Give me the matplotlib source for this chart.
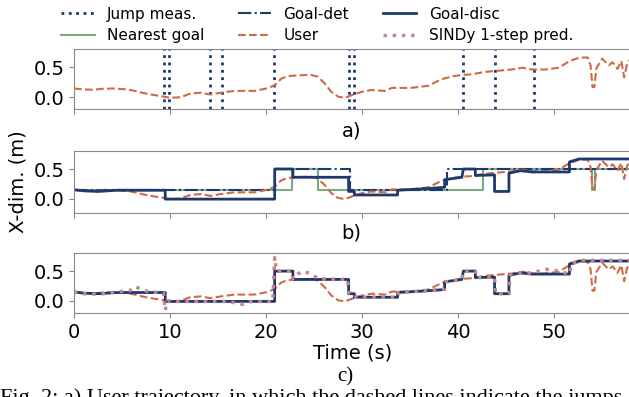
import matplotlib.pyplot as plt
from matplotlib.lines import Line2D

# user trajectory (x-dim, m)
t_user = [0, 1, 2, 3, 4.1, 5.5, 6.5, 7.2, 8.2, 9, 10, 11.1, 12.1, 13.2, 14.2, 15.3, 16.7, 18.8,
          20.2, 20.9, 21.6, 22.3, 23.6, 24.7, 25.4, 26.1, 26.8, 27.5, 28.2, 29.2, 30, 31, 32.4,
          33.1, 35.1, 36.9, 38.3, 39.5, 40.4, 41.4, 42.8, 44.2, 45.6, 46.7, 47.7, 49.1, 50.5,
          51.6, 52.6, 53.5, 53.8, 54.0, 54.2, 54.4, 55, 55.7, 56.1, 56.6, 57.0, 57.3, 57.6, 58]
x_user = [0.145, 0.13, 0.125, 0.14, 0.145, 0.13, 0.1, 0.07, 0.04, 0.02, -0.01, 0.0, 0.06, 0.075,
          0.045, 0.075, 0.105, 0.105, 0.15, 0.2, 0.31, 0.35, 0.365, 0.37, 0.34, 0.23, 0.09, 0.01,
          -0.01, 0.05, 0.09, 0.12, 0.105, 0.155, 0.155, 0.19, 0.3, 0.35, 0.37, 0.38, 0.42, 0.44,
          0.46, 0.49, 0.46, 0.46, 0.49, 0.6, 0.655, 0.66, 0.53, 0.17, 0.17, 0.48, 0.64, 0.53,
          0.58, 0.47, 0.6, 0.33, 0.55, 0.65]

# measured jumps (s)
t_jumps = [9.4, 9.86, 14.15, 15.4, 20.85, 28.6, 29.15, 40.55, 43.8, 47.95]

# nearest goal
t_near = [0, 22.7, 22.7, 25.4, 25.4, 42.6, 42.6, 53.9, 53.9, 54.25, 54.25, 58]
x_near = [0.15, 0.15, 0.5, 0.5, 0.15, 0.15, 0.5, 0.5, 0.15, 0.15, 0.5, 0.5]

# goal-det
t_det = [0, 20.9, 20.9, 28.7, 28.7, 38.9, 38.9, 58]
x_det = [0.15, 0.15, 0.5, 0.5, 0.15, 0.15, 0.5, 0.5]

# goal-disc
t_disc = [0, 1, 2.5, 4.5, 9.5, 9.5, 20.9, 20.9, 22.8, 22.8, 28.6, 28.6, 29.2, 29.2, 33.7, 33.7,
          36.9, 38.6, 38.6, 40.4, 40.55, 41.8, 41.8, 43.8, 43.8, 45.3, 45.3, 46.5, 47.7, 51.6,
          51.6, 52.6, 58]
x_disc = [0.15, 0.13, 0.12, 0.14, 0.14, -0.01, -0.01, 0.5, 0.5, 0.36, 0.36, 0.12, 0.12, 0.06,
          0.06, 0.14, 0.17, 0.19, 0.32, 0.36, 0.5, 0.5, 0.39, 0.4, 0.12, 0.12, 0.43, 0.47, 0.45,
          0.45, 0.62, 0.67, 0.67]

# SINDy 1-step prediction
t_sindy = [0, 1, 2.5, 4.5, 5.8, 6.3, 6.8, 7.8, 9.3, 9.5, 9.7, 10.5, 13, 16, 17.6, 18.5, 20.7,
           20.9, 21.1, 22.6, 22.8, 23.3, 23.8, 24.6, 25.5, 28.5, 28.6, 29.2, 29.4, 33.7, 33.8,
           36.9, 38.6, 38.7, 40.4, 40.55, 41.8, 41.9, 43.8, 43.9, 45.3, 45.4, 46.5, 47.7, 49.2,
           50.5, 51.6, 51.8, 52.6, 58]
x_sindy = [0.15, 0.12, 0.11, 0.15, 0.17, 0.24, 0.21, 0.15, 0.14, -0.16, 0.0, -0.01, -0.01,
           -0.01, -0.06, -0.01, -0.01, 0.73, 0.5, 0.5, 0.37, 0.45, 0.5, 0.46, 0.37, 0.36, 0.14,
           0.12, 0.06, 0.06, 0.14, 0.17, 0.2, 0.32, 0.36, 0.5, 0.5, 0.39, 0.4, 0.12, 0.12, 0.43,
           0.47, 0.47, 0.53, 0.5, 0.45, 0.62, 0.68, 0.68]

navy = "#1c3a6e"
green = "#7aab86"
orange = "#cf6a45"
pink = "#c8868c"

plt.rcParams['font.size'] = 14

fig = plt.figure(figsize=(6.29, 3.97), dpi=100)
W = 629
H = 397
left = 74 / W
width = 1.003 - left
ax_a = fig.add_axes([left, 1 - 109.3 / H, width, 60.3 / H])
ax_b = fig.add_axes([left, 1 - 212.7 / H, width, 62 / H])
ax_c = fig.add_axes([left, 1 - 313.3 / H, width, 60 / H])

# a) user + jumps
for tj in t_jumps:
    ax_a.axvline(tj, color=navy, ls=":", lw=2)
ax_a.plot(t_user, x_user, color=orange, ls="--", lw=1.5)
ax_a.set_ylim(-0.2, 0.8)

# b) goals
ax_b.plot(t_near, x_near, color=green, lw=1.5)
ax_b.plot(t_det, x_det, color=navy, ls="-.", lw=1.5)
ax_b.plot(t_user, x_user, color=orange, ls="--", lw=1.5)
ax_b.plot(t_disc, x_disc, color=navy, lw=2)
ax_b.set_ylim(-0.24, 0.81)
ax_b.set_ylabel("X-dim. (m)")

# c) SINDy
ax_c.plot(t_user, x_user, color=orange, ls="--", lw=1.5)
ax_c.plot(t_disc, x_disc, color=navy, lw=2)
ax_c.plot(t_sindy, x_sindy, color=pink, ls=":", lw=2.5)
ax_c.set_ylim(-0.21, 0.8)
ax_c.set_xlabel("Time (s)", labelpad=1)

for ax in (ax_a, ax_b, ax_c):
    ax.set_xlim(0, 58)
    ax.set_xticks([0, 10, 20, 30, 40, 50])
    ax.set_yticks([0.0, 0.5])
    for s in ax.spines.values():
        s.set_color("#888888")
    ax.tick_params(color="#888888")
ax_a.set_xticklabels([])
ax_b.set_xticklabels([])

fig.text((74 + 629) / 2 / W, 1 - 131 / H, "a)", ha="center", va="center", fontsize=14)
fig.text((74 + 629) / 2 / W, 1 - 233 / H, "b)", ha="center", va="center", fontsize=14)
fig.text(345 / W, 1 - 377 / H, "c)", ha="center", va="center", fontsize=15,
         family="Liberation Serif")
fig.text(0.0, 1 - 388 / H,
         "Fig. 2: a) User trajectory, in which the dashed lines indicate the jumps",
         ha="left", va="top", fontsize=16, family="Liberation Serif")

handles = [
    Line2D([], [], color=navy, ls=":", lw=2),
    Line2D([], [], color=green, lw=1.5),
    Line2D([], [], color=navy, ls="-.", lw=1.5),
    Line2D([], [], color=orange, ls="--", lw=1.5),
    Line2D([], [], color=navy, lw=2),
    Line2D([], [], color=pink, ls=":", lw=2.5),
]
labels = ["Jump meas.", "Nearest goal", "Goal-det", "User", "Goal-disc", "SINDy 1-step pred."]
fig.legend(handles, labels, ncol=3, loc="upper left", bbox_to_anchor=(0.075, 1.018),
           frameon=False, fontsize=11, handlelength=2.2, labelspacing=0.45, columnspacing=2.2)

fig.savefig("out.png", dpi=100)
